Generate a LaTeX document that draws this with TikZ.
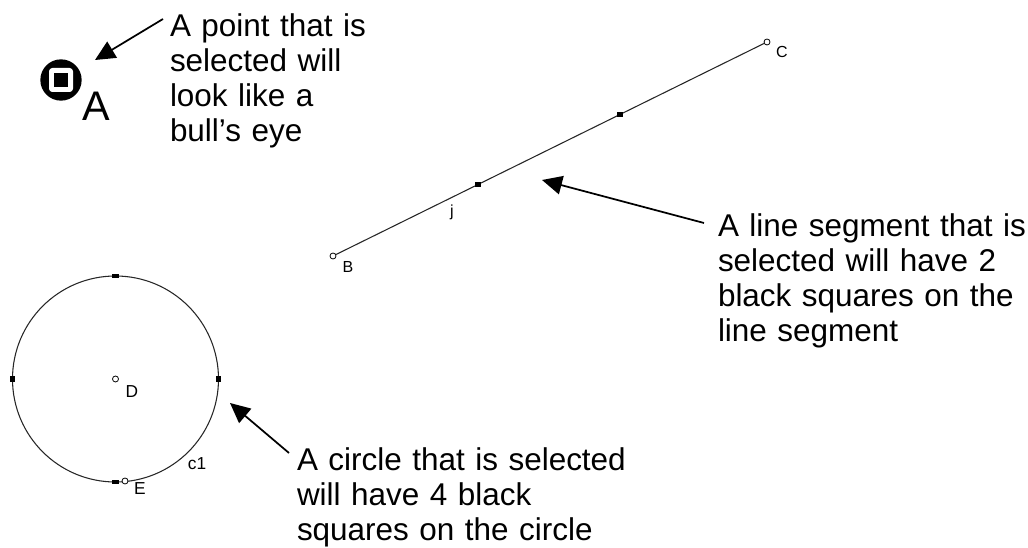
\documentclass[tikz,border=0pt]{standalone}
\usepackage{fontspec}
\setmainfont{Liberation Sans}
\usetikzlibrary{arrows.meta,calc}
\begin{document}
\begin{tikzpicture}[x=0.75pt,y=-0.75pt,
  note/.style={anchor=base west, inner sep=0pt, outer sep=0pt, align=left, text width=300pt,
    font=\fontsize{23.6pt}{26.25pt}\selectfont},
  ptr/.style={-{Triangle[length=15pt,width=14pt]}, line width=1.3pt},
  geo/.style={line width=0.8pt, black!85},
  pt/.style={circle, draw, line width=0.6pt, fill=white, inner sep=0pt, minimum size=4.5pt},
  hsq/.style={rectangle, fill=black, inner sep=0pt, minimum width=5.2pt, minimum height=3.2pt},
  vsq/.style={rectangle, fill=black, inner sep=0pt, minimum width=3.2pt, minimum height=5.2pt},
  lsq/.style={rectangle, fill=black, inner sep=0pt, minimum width=5pt, minimum height=4.2pt},
  lbl/.style={inner sep=0pt, font=\fontsize{12pt}{12pt}\selectfont},
  clbl/.style={inner sep=0pt, font=\fontsize{13pt}{13pt}\selectfont},
  bullseye/.style={circle, fill=black, minimum size=31pt, inner sep=0pt,
    path picture={
      \fill[white, rounded corners=2.5pt] ([shift={(-9pt,-9pt)}]path picture bounding box.center) rectangle ++(18pt,18pt);
      \fill[black] ([shift={(-5.25pt,-5.25pt)}]path picture bounding box.center) rectangle ++(10.5pt,10.5pt);
    }}]
\useasboundingbox (0,0) rectangle (1028,548);

% point A (selected)
\node[bullseye] (A) at (61,80) {};
\node[inner sep=0pt, font=\fontsize{31pt}{31pt}\selectfont] (Alab) at (96,106) {A};

% line segment BC
\node[pt] (B) at (333,256) {};
\node[pt] (C) at (767,42) {};
\draw[geo] (B) -- (C);
\node[lsq] (s1) at ($(B)!0.334!(C)$) {};
\node[lsq] (s2) at ($(B)!0.661!(C)$) {};
\node[lbl] (Blab) at (348,267) {B};
\node[lbl] (Clab) at (782,52) {C};
\node[lbl] (jlab) at (452,212) {j};

% circle c1
\coordinate (Dc) at (115.5,379);
\draw[geo] (Dc) circle[radius=103];
\node[pt] (D) at (Dc) {};
\node[hsq] (q1) at (115.5,276) {};
\node[hsq] (q2) at (115.5,482) {};
\node[vsq] (q3) at (12.5,379) {};
\node[vsq] (q4) at (218.5,379) {};
\node[pt] (E) at (125,481) {};
\node[clbl] (Dlab) at (132,392) {D};
\node[clbl] (Elab) at (140,489) {E};
\node[clbl] (c1lab) at (197,464) {c1};

% notes
\node[note] (n1) at (170,37) {A point that is\\selected will\\look like a\\bull’s eye};
\node[note] (n2) at (718,237) {A line segment that is\\selected will have 2\\black squares on the\\line segment};
\node[note] (n3) at (297,471) {A circle that is selected\\will have 4 black\\squares on the circle};

% arrows
\coordinate (a1s) at (163,19);
\coordinate (a1e) at (95,60);
\coordinate (a2s) at (704,223);
\coordinate (a2e) at (542,180);
\coordinate (a3s) at (289,453);
\coordinate (a3e) at (230,403);
\draw[ptr] (a1s) -- (a1e);
\draw[ptr] (a2s) -- (a2e);
\draw[ptr] (a3s) -- (a3e);
\end{tikzpicture}
\end{document}
